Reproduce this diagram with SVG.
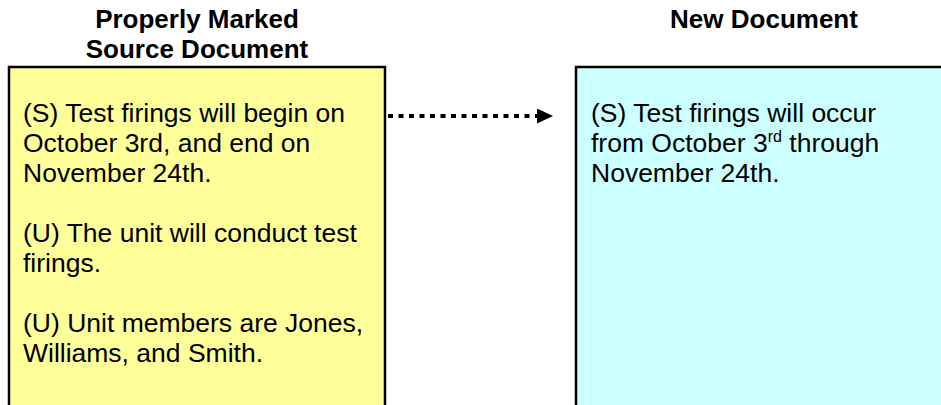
<svg xmlns="http://www.w3.org/2000/svg" width="941" height="405" viewBox="0 0 941 405">
<style>
.title{font-family:"Liberation Sans",Arial,sans-serif;font-weight:bold;font-size:26px;fill:#000;text-anchor:middle}
.body{font-family:"Liberation Sans",Arial,sans-serif;font-size:26.5px;fill:#000}
.box{stroke:#000;stroke-width:2.5}
</style>
<defs>
<marker id="arrow" markerWidth="16" markerHeight="15" refX="0" refY="7.5" orient="auto" markerUnits="userSpaceOnUse">
<path d="M0,0 L16,7.5 L0,15 Z" fill="#000"/>
</marker>
</defs>
<rect width="941" height="405" fill="#fff"/>
<g id="source">
<text class="title" x="197" y="28">Properly Marked</text>
<text class="title" x="197" y="58">Source Document</text>
<rect class="box" x="9" y="67" width="376" height="360" fill="#FFFF99"/>
<text class="body" x="23" y="122">(S) Test firings will begin on</text>
<text class="body" x="23" y="152">October 3rd, and end on</text>
<text class="body" x="23" y="182">November 24th.</text>
<text class="body" x="23" y="242">(U) The unit will conduct test</text>
<text class="body" x="23" y="272">firings.</text>
<text class="body" x="23" y="332">(U) Unit members are Jones,</text>
<text class="body" x="23" y="362">Williams, and Smith.</text>
</g>
<g id="new">
<text class="title" x="764" y="28">New Document</text>
<rect class="box" x="576" y="67" width="376" height="360" fill="#CCFFFF"/>
<text class="body" x="591" y="122">(S) Test firings will occur</text>
<text class="body" x="591" y="152">from October 3<tspan font-size="16" dy="-10">rd</tspan><tspan dy="10"> through</tspan></text>
<text class="body" x="591" y="182">November 24th.</text>
</g>
<g id="connectors">
<line x1="388" y1="116" x2="537" y2="116" stroke="#000" stroke-width="4" stroke-dasharray="5 5.5" marker-end="url(#arrow)"/>
</g>
</svg>
